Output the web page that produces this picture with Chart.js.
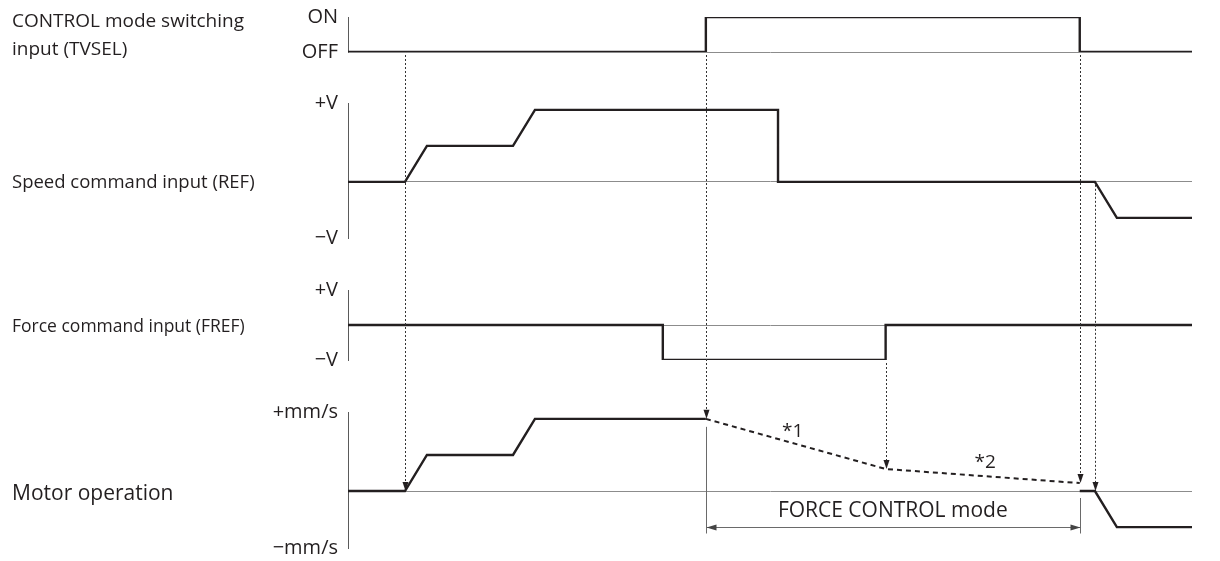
<!DOCTYPE html>
<html>
<head>
<meta charset="utf-8">
<script src="https://cdn.jsdelivr.net/npm/chart.js@4.4.1/dist/chart.umd.min.js"></script>
<style>
  html, body { margin: 0; background: #fff; }
</style>
</head>
<body>
<canvas id="chart" width="1220" height="561"></canvas>
<script>
// time runs 0..100 across the diagram
const tvselT = [0, 42.4, 42.4, 86.7, 86.7, 100];
const tvselV = [0, 0, 1, 1, 0, 0];
const refT = [0, 6.75, 9.35, 19.55, 22.15, 50.95, 50.95, 88.5, 91.1, 100];
const refV = [0, 0, 1, 1, 2, 2, 0, 0, -1, -1];
const frefT = [0, 37.3, 37.3, 63.7, 63.7, 100];
const frefV = [0, 0, -1, -1, 0, 0];
const motorT = [0, 6.75, 9.35, 19.55, 22.15, 42.4];
const motorV = [0, 0, 1, 1, 2, 2];
const coastT = [42.4, 63.7, 86.7];   // dashed part (*1, *2)
const coastV = [2, 0.61, 0.22];
const stopT = [86.7, 88.5, 91.1, 100];
const stopV = [0, 0, -1, -1];

// lanes, top to bottom
const lanes = ['tvsel', 'ref', 'fref', 'motor'];
const laneNames = [['CONTROL mode switching', 'input (TVSEL)'], ['Speed command input (REF)'], ['Force command input (FREF)'], ['Motor operation']];
const laneTop = ['ON', '+V', '+V', '+mm/s'];
const laneBottom = ['OFF', '\u2212V', '\u2212V', '\u2212mm/s'];
const laneMax = [1, 2.19, 1, 2.19];
const laneMin = [0, -1.56, -1, -1.58];

// dotted cue arrows: time, source lane/level, motor level at the tip
const cueT = [6.75, 42.4, 63.7, 86.7, 88.5];
const cueFrom = ['tvsel', 'tvsel', 'fref', 'tvsel', 'ref'];
const cueFromV = [0, 0, -1, 0, 0];
const cueToV = [0, 2, 0.61, 0.22, 0];

const modeSpan = [42.4, 86.7];
const modeText = 'FORCE CONTROL mode';

const ink = '#231f20';
const family = "'Open Sans', sans-serif";

const pts = (T, V) => T.map((t, i) => ({ x: t, y: V[i] }));

// stacked y scales (lanes plus spacers), heights as stack weights
const order = ['tvsel', 'gap1', 'ref', 'gap2', 'fref', 'gap3', 'motor'];
const bandWeights = [35, 51, 135, 52, 70, 52, 136];
const scales = { x: { type: 'linear', min: 0, max: 100, display: false } };
order.forEach((id, i) => {
  const k = lanes.indexOf(id);
  const base = {
    type: 'linear', position: 'left', stack: 'lanes',
    stackWeight: bandWeights[i], weight: order.length - i,
    afterFit: (s) => { s.width = 348; s.paddingTop = 0; s.paddingBottom = 0; }
  };
  if (k < 0) {
    scales[id] = { ...base, ticks: { display: false }, grid: { display: false }, border: { display: false } };
    return;
  }
  scales[id] = {
    ...base,
    min: laneMin[k], max: laneMax[k],
    afterBuildTicks: (s) => {
      const vals = [laneMin[k], 0, laneMax[k]].filter((v, j, a) => a.indexOf(v) === j);
      s.ticks = vals.map((value) => ({ value }));
    },
    ticks: {
      autoSkip: false, padding: 10, color: ink,
      font: { family, size: 20 },
      callback: (v) => (v === laneMax[k] ? laneTop[k] : v === laneMin[k] ? laneBottom[k] : '')
    },
    grid: {
      drawTicks: false, lineWidth: 1,
      color: (c) => (c.tick && c.tick.value === 0 ? '#8c8c8c' : 'rgba(0,0,0,0)')
    },
    border: { color: '#5a5a5a', width: 1 }
  };
});

const line = (data, yAxisID, extra) => ({
  data, yAxisID, xAxisID: 'x',
  borderColor: ink, borderWidth: 2.4, pointRadius: 0, fill: false,
  tension: 0, borderJoinStyle: 'miter', ...extra
});

function arrowHead(ctx, x, y, dir) {
  ctx.beginPath();
  if (dir === 'down') {
    ctx.moveTo(x, y); ctx.lineTo(x - 3, y - 9); ctx.lineTo(x + 3, y - 9);
  } else if (dir === 'left') {
    ctx.moveTo(x, y); ctx.lineTo(x + 10, y - 3); ctx.lineTo(x + 10, y + 3);
  } else {
    ctx.moveTo(x, y); ctx.lineTo(x - 10, y - 3); ctx.lineTo(x - 10, y + 3);
  }
  ctx.closePath();
  ctx.fill();
}

const notes = {
  id: 'notes',
  afterDraw(chart) {
    const { ctx, scales: s } = chart;
    const x = s.x, m = s.motor;
    ctx.save();

    // cue arrows
    ctx.fillStyle = ink;
    ctx.strokeStyle = '#333';
    ctx.lineWidth = 1;
    ctx.setLineDash([2, 2]);
    cueT.forEach((t, i) => {
      const px = Math.round(x.getPixelForValue(t)) + 0.5;
      const y1 = s[cueFrom[i]].getPixelForValue(cueFromV[i]) + 3;
      const y2 = m.getPixelForValue(cueToV[i]);
      ctx.beginPath(); ctx.moveTo(px, y1); ctx.lineTo(px, y2 - 8); ctx.stroke();
      arrowHead(ctx, px, y2, 'down');
    });

    // FORCE CONTROL mode dimension
    ctx.setLineDash([]);
    ctx.strokeStyle = '#6a6a6a';
    const x1 = Math.round(x.getPixelForValue(modeSpan[0])) + 0.5;
    const x2 = Math.round(x.getPixelForValue(modeSpan[1])) + 0.5;
    const yd = Math.round(m.getPixelForValue(-1)) + 0.5;
    ctx.beginPath();
    ctx.moveTo(x1, yd); ctx.lineTo(x2, yd);
    ctx.moveTo(x1, m.getPixelForValue(2) + 8); ctx.lineTo(x1, yd + 6);
    ctx.moveTo(x2, m.getPixelForValue(0) + 7); ctx.lineTo(x2, yd + 6);
    ctx.stroke();
    ctx.fillStyle = '#444';
    arrowHead(ctx, x1, yd, 'left');
    arrowHead(ctx, x2, yd, 'right');

    ctx.fillStyle = ink;
    ctx.textAlign = 'center';
    ctx.textBaseline = 'middle';
    ctx.font = `21px ${family}`;
    ctx.fillText(modeText, x.getPixelForValue((modeSpan[0] + modeSpan[1]) / 2), m.getPixelForValue(-0.56));
    ctx.font = `19px ${family}`;
    ctx.fillText('*1', x.getPixelForValue(52.7), m.getPixelForValue(1.64));
    ctx.fillText('*2', x.getPixelForValue(75.5), m.getPixelForValue(0.8));

    // lane names
    ctx.textAlign = 'left';
    ctx.font = `19px ${family}`;
    ctx.fillText(laneNames[0][0], 12, s.tvsel.getPixelForValue(1) + 5);
    ctx.fillText(laneNames[0][1], 12, s.tvsel.getPixelForValue(0) - 2);
    ctx.font = `18.5px ${family}`;
    ctx.fillText(laneNames[1][0], 12, s.ref.getPixelForValue(0) + 1);
    ctx.font = `17.5px ${family}`;
    ctx.fillText(laneNames[2][0], 12, s.fref.getPixelForValue(0) + 2);
    ctx.font = `21px ${family}`;
    ctx.fillText(laneNames[3][0], 12, m.getPixelForValue(0) + 3);
    ctx.restore();
  }
};

new Chart(document.getElementById('chart'), {
  type: 'line',
  data: {
    datasets: [
      line(pts(tvselT, tvselV), 'tvsel'),
      line(pts(refT, refV), 'ref'),
      line(pts(frefT, frefV), 'fref'),
      line(pts(motorT, motorV), 'motor'),
      line(pts(coastT, coastV), 'motor', { borderDash: [5, 4], borderWidth: 2 }),
      line(pts(stopT, stopV), 'motor')
    ]
  },
  options: {
    responsive: false,
    animation: false,
    devicePixelRatio: 1,
    layout: { padding: { left: 0, right: 28, top: 17, bottom: 13 } },
    plugins: { legend: { display: false }, tooltip: { enabled: false } },
    scales
  },
  plugins: [notes]
});
</script>
</body>
</html>
